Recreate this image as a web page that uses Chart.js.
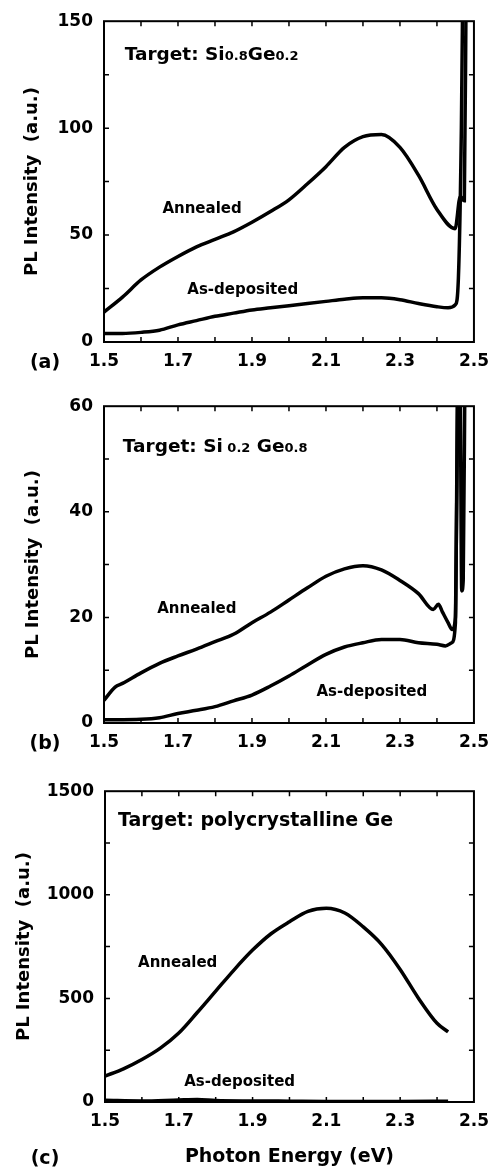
<!DOCTYPE html>
<html>
<head>
<meta charset="utf-8">
<title>PL spectra of SiGe films</title>
<script src="https://cdn.jsdelivr.net/npm/chart.js@4.4.1/dist/chart.umd.min.js"></script>
<style>
  body { margin: 0; background: #fff; }
  #wrap { position: relative; width: 498px; height: 1172px; }
  canvas { position: absolute; left: 0; }
</style>
</head>
<body>
<div id="wrap">
  <canvas id="chart-a" width="498" height="385" style="top:0px"></canvas>
  <canvas id="chart-b" width="498" height="385" style="top:385px"></canvas>
  <canvas id="chart-c" width="498" height="402" style="top:770px"></canvas>
</div>
<script>
//Tick values shared by the three panels
var xTickLabels = [1.5, 1.7, 1.9, 2.1, 2.3, 2.5];
var xMinorTicks = [1.6, 1.7, 1.8, 1.9, 2.0, 2.1, 2.2, 2.3, 2.4];

//Panel (a) - target Si0.8Ge0.2
var yTicksA = [0, 50, 100, 150];
var yMinorA = [25, 50, 75, 100, 125];
var energyAnnealedA = [1.50, 1.55, 1.60, 1.65, 1.70, 1.75, 1.80, 1.85, 1.90, 1.95, 2.00, 2.05, 2.10, 2.15, 2.20, 2.25, 2.30, 2.35, 2.40, 2.449, 2.463, 2.474, 2.479];
var annealedA = [14, 21, 29, 35, 40, 44.5, 48, 51.5, 56, 61, 66.5, 74, 82, 91, 96, 97, 91, 78, 62, 53, 68, 66, 170];
var energyDepositedA = [1.50, 1.55, 1.60, 1.65, 1.70, 1.75, 1.80, 1.85, 1.90, 1.95, 2.00, 2.05, 2.10, 2.15, 2.20, 2.25, 2.30, 2.35, 2.40, 2.43, 2.45, 2.458, 2.466, 2.470];
var depositedA = [4, 4, 4.5, 5.5, 8, 10, 12, 13.5, 15, 16, 17, 18, 19, 20, 20.7, 20.7, 19.8, 18, 16.5, 16, 17.5, 30, 100, 170];

//Panel (b) - target Si0.2Ge0.8
var yTicksB = [0, 20, 40, 60];
var yMinorB = [10, 20, 30, 40, 50];
var energyAnnealedB = [1.50, 1.53, 1.55, 1.60, 1.65, 1.70, 1.75, 1.80, 1.85, 1.90, 1.95, 2.00, 2.05, 2.10, 2.15, 2.20, 2.25, 2.30, 2.35, 2.39, 2.404, 2.415, 2.43, 2.441, 2.45, 2.457, 2.462, 2.467, 2.471, 2.476];
var annealedB = [4.3, 6.8, 7.5, 9.5, 11.3, 12.7, 14, 15.4, 16.8, 19, 21, 23.3, 25.6, 27.8, 29.2, 29.8, 29, 27, 24.5, 21.5, 22.5, 21, 19, 17.7, 20, 70, 70, 25, 27, 70];
var energyDepositedB = [1.50, 1.60, 1.65, 1.70, 1.75, 1.80, 1.85, 1.90, 1.95, 2.00, 2.05, 2.10, 2.15, 2.20, 2.25, 2.30, 2.35, 2.40, 2.423, 2.44, 2.45, 2.457];
var depositedB = [0.6, 0.7, 1, 1.8, 2.4, 3.1, 4.2, 5.3, 7, 8.9, 11, 13, 14.4, 15.2, 15.8, 15.8, 15.2, 14.9, 14.6, 15.2, 19, 70];

//Panel (c) - target polycrystalline Ge
var yTicksC = [0, 500, 1000, 1500];
var yMinorC = [250, 500, 750, 1000, 1250];
var energyAnnealedC = [1.50, 1.55, 1.60, 1.65, 1.70, 1.75, 1.80, 1.85, 1.90, 1.95, 2.00, 2.05, 2.10, 2.15, 2.20, 2.25, 2.30, 2.35, 2.40, 2.43];
var annealedC = [125, 160, 205, 260, 333, 432, 535, 638, 733, 812, 870, 920, 935, 912, 845, 760, 640, 500, 380, 338];
var energyDepositedC = [1.50, 1.60, 1.70, 1.75, 1.80, 1.90, 2.00, 2.10, 2.20, 2.30, 2.43];
var depositedC = [8, 5, 10, 12, 7, 5, 4, 3, 3, 3, 4];

var FONT = "'DejaVu Sans', 'Liberation Sans', Arial, sans-serif";

function pairUp(xs, ys) {
  var pts = [];
  for (var i = 0; i < xs.length; i++) {
    pts.push({ x: xs[i], y: ys[i] });
  }
  return pts;
}

//draws text made of pieces of different sizes (for subscripts)
function drawParts(ctx, x, y, parts, align) {
  var total = 0;
  for (var i = 0; i < parts.length; i++) {
    ctx.font = 'bold ' + parts[i][1] + 'px ' + FONT;
    total += ctx.measureText(parts[i][0]).width;
  }
  var cx = align === 'center' ? x - total / 2 : x;
  ctx.textAlign = 'left';
  ctx.textBaseline = 'alphabetic';
  for (var j = 0; j < parts.length; j++) {
    ctx.font = 'bold ' + parts[j][1] + 'px ' + FONT;
    ctx.fillText(parts[j][0], cx, y);
    cx += ctx.measureText(parts[j][0]).width;
  }
}

//box frame, inward ticks, and the text inside each panel
var framePlugin = {
  id: 'frame',
  afterDatasetsDraw: function (chart, args, opts) {
    var ctx = chart.ctx;
    var a = chart.chartArea;
    var xs = chart.scales.x;
    var ys = chart.scales.y;
    ctx.save();
    ctx.strokeStyle = '#000';
    ctx.fillStyle = '#000';
    ctx.lineWidth = 1.5;
    ctx.beginPath();
    xMinorTicks.forEach(function (v) {
      var px = xs.getPixelForValue(v);
      ctx.moveTo(px, a.bottom);
      ctx.lineTo(px, a.bottom - 5);
      ctx.moveTo(px, a.top);
      ctx.lineTo(px, a.top + 5);
    });
    opts.yMinor.forEach(function (v) {
      var py = ys.getPixelForValue(v);
      ctx.moveTo(a.left, py);
      ctx.lineTo(a.left + 5, py);
      ctx.moveTo(a.right, py);
      ctx.lineTo(a.right - 5, py);
    });
    ctx.stroke();
    ctx.lineWidth = 2;
    ctx.strokeRect(a.left, a.top, a.right - a.left, a.bottom - a.top);

    opts.notes.forEach(function (n) {
      drawParts(ctx, xs.getPixelForValue(n.x), ys.getPixelForValue(n.y), n.parts, n.align);
    });
    drawParts(ctx, opts.tag[0], opts.tag[1], [[opts.tag[2], 19]], 'center');
    ctx.restore();
  }
};

function buildPanel(id, setup) {
  var ctx = document.getElementById(id).getContext('2d');
  return new Chart(ctx, {
    type: 'line',
    data: {
      datasets: [
        {
          label: 'Annealed',
          data: pairUp(setup.annealed[0], setup.annealed[1]),
          borderColor: '#000',
          borderWidth: 3.5,
          pointRadius: 0,
          cubicInterpolationMode: 'monotone'
        },
        {
          label: 'As-deposited',
          data: pairUp(setup.deposited[0], setup.deposited[1]),
          borderColor: '#000',
          borderWidth: 3.5,
          pointRadius: 0,
          cubicInterpolationMode: 'monotone'
        }
      ]
    },
    options: {
      responsive: false,
      animation: false,
      events: [],
      layout: { padding: setup.padding },
      plugins: {
        legend: { display: false },
        tooltip: { enabled: false },
        frame: { yMinor: setup.yMinor, notes: setup.notes, tag: setup.tag }
      },
      scales: {
        x: {
          type: 'linear',
          min: 1.5,
          max: 2.5,
          grid: { display: false, drawTicks: false },
          border: { display: false },
          afterBuildTicks: function (axis) {
            axis.ticks = xTickLabels.map(function (v) { return { value: v }; });
          },
          afterFit: function (axis) { axis.height = setup.xHeight; },
          ticks: {
            autoSkip: false,
            maxRotation: 0,
            padding: 9,
            color: '#000',
            font: { family: FONT, size: 17, weight: 'bold' },
            callback: function (v) { return v.toFixed(1); }
          },
          title: {
            display: !!setup.xTitle,
            text: setup.xTitle || '',
            color: '#000',
            padding: { top: 0, bottom: 4 },
            font: { family: FONT, size: 19, weight: 'bold' }
          }
        },
        y: {
          min: setup.yTicks[0],
          max: setup.yTicks[setup.yTicks.length - 1],
          grid: { display: false, drawTicks: false },
          border: { display: false },
          afterBuildTicks: function (axis) {
            axis.ticks = setup.yTicks.map(function (v) { return { value: v }; });
          },
          afterFit: function (axis) { axis.width = setup.yWidth; },
          ticks: {
            padding: 11,
            color: '#000',
            font: { family: FONT, size: 17, weight: 'bold' },
            callback: function (v) { return String(v); }
          },
          title: {
            display: true,
            text: 'PL Intensity  (a.u.)',
            color: '#000',
            padding: { top: setup.yTitlePad, bottom: 0 },
            font: { family: FONT, size: 18, weight: 'bold' }
          }
        }
      }
    },
    plugins: [framePlugin]
  });
}

buildPanel('chart-a', {
  annealed: [energyAnnealedA, annealedA],
  deposited: [energyDepositedA, depositedA],
  yTicks: yTicksA,
  yMinor: yMinorA,
  padding: { top: 15, right: 21, bottom: 13, left: 0 },
  xHeight: 30,
  yWidth: 104,
  yTitlePad: 22,
  tag: [45, 368, '(a)'],
  notes: [
    { x: 1.556, y: 131.7, align: 'left', parts: [['Target: Si', 18.5], ['0.8', 13], ['Ge', 18.5], ['0.2', 13]] },
    { x: 1.765, y: 60.5, align: 'center', parts: [['Annealed', 15]] },
    { x: 1.875, y: 22.5, align: 'center', parts: [['As-deposited', 15]] }
  ]
});

buildPanel('chart-b', {
  annealed: [energyAnnealedB, annealedB],
  deposited: [energyDepositedB, depositedB],
  yTicks: yTicksB,
  yMinor: yMinorB,
  padding: { top: 16, right: 24, bottom: 17, left: 0 },
  xHeight: 30,
  yWidth: 104,
  yTitlePad: 23,
  tag: [45, 364, '(b)'],
  notes: [
    { x: 1.551, y: 51.4, align: 'left', parts: [['Target: Si', 18.5], [' 0.2', 13], [' Ge', 18.5], ['0.8', 13]] },
    { x: 1.751, y: 20.9, align: 'center', parts: [['Annealed', 15]] },
    { x: 2.224, y: 5.2, align: 'center', parts: [['As-deposited', 15]] }
  ]
});

buildPanel('chart-c', {
  annealed: [energyAnnealedC, annealedC],
  deposited: [energyDepositedC, depositedC],
  yTicks: yTicksC,
  yMinor: yMinorC,
  padding: { top: 11, right: 23, bottom: 0, left: 0 },
  xHeight: 70,
  yWidth: 105,
  yTitlePad: 14,
  xTitle: 'Photon Energy (eV)',
  tag: [45, 394, '(c)'],
  notes: [
    { x: 1.535, y: 1332, align: 'left', parts: [['Target: polycrystalline Ge', 19]] },
    { x: 1.697, y: 650, align: 'center', parts: [['Annealed', 15]] },
    { x: 1.865, y: 79, align: 'center', parts: [['As-deposited', 15]] }
  ]
});
</script>
</body>
</html>
